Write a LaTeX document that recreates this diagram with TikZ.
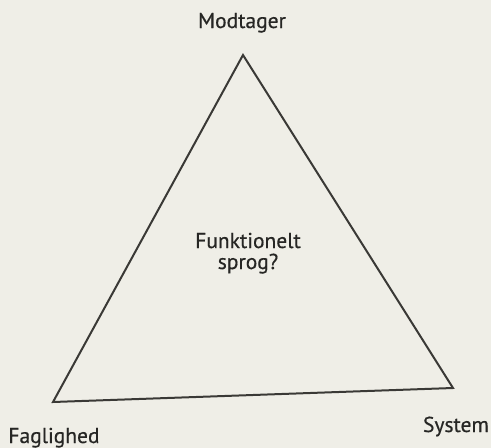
\documentclass[tikz,border=0pt]{standalone}
\usepackage{fontspec}
\newfontfamily\labelfont{PT Sans}[FakeBold=0.5]
\definecolor{paper}{HTML}{EFEEE7}
\definecolor{ink}{HTML}{262624}
\definecolor{rule}{HTML}{3A3936}
\begin{document}
\begin{tikzpicture}[x=1pt,y=-1pt,
  label text/.style={text=ink,font=\labelfont\fontsize{21.5}{24}\selectfont,inner sep=0pt,anchor=base},
  edge line/.style={draw=rule,line width=2pt,line join=miter}]
  % page background
  \fill[paper] (0,0) rectangle (491,448);
  \useasboundingbox (0,0) rectangle (491,448);
  % corners of the triangle
  \coordinate (top) at (243,55);
  \coordinate (left) at (53,402);
  \coordinate (right) at (453,388);
  \draw[edge line] (top) -- (right) -- (left) -- cycle;
  % corner labels
  \node[label text] (modtager) at (242,28) {Modtager};
  \node[label text] (faglighed) at (54,443) {Faglighed};
  \node[label text] (system) at (456,432) {System};
  % centre label
  \node[label text] (funk) at (248,248) {Funktionelt};
  \node[label text] (sprog) at (248,269) {sprog?};
\end{tikzpicture}
\end{document}
